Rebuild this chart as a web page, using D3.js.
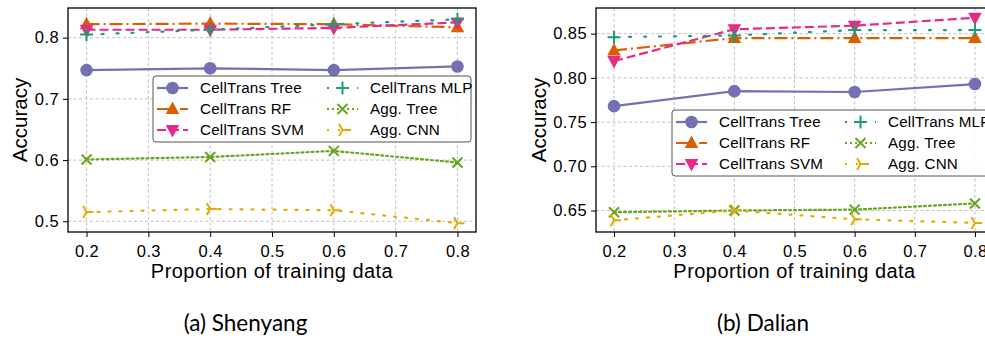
<!DOCTYPE html>
<html>
<head>
<meta charset="utf-8">
<script src="https://cdn.jsdelivr.net/npm/d3@7"></script>
<style>
  html, body { margin: 0; padding: 0; background: #fff; }
  svg { display: block; }
</style>
</head>
<body>
<svg id="chart" width="985" height="341"></svg>
<script>
// Proportion of training data (x values shared by both panels)
const proportions = [0.2, 0.4, 0.6, 0.8];
const xTicks = [0.2, 0.3, 0.4, 0.5, 0.6, 0.7, 0.8];

const seriesNames = ["CellTrans Tree", "CellTrans RF", "CellTrans SVM",
                     "CellTrans MLP", "Agg. Tree", "Agg. CNN"];

// Shenyang accuracy
const shenyangTree = [0.747, 0.750, 0.747, 0.753];
const shenyangRF   = [0.822, 0.823, 0.822, 0.817];
const shenyangSVM  = [0.813, 0.813, 0.816, 0.825];
const shenyangMLP  = [0.805, 0.813, 0.822, 0.830];
const shenyangAggTree = [0.601, 0.605, 0.615, 0.596];
const shenyangAggCNN  = [0.515, 0.520, 0.518, 0.497];
const shenyangYTicks = [0.5, 0.6, 0.7, 0.8];

// Dalian accuracy
const dalianTree = [0.768, 0.785, 0.784, 0.793];
const dalianRF   = [0.831, 0.845, 0.845, 0.845];
const dalianSVM  = [0.819, 0.855, 0.859, 0.868];
const dalianMLP  = [0.846, 0.848, 0.854, 0.854];
const dalianAggTree = [0.648, 0.650, 0.651, 0.658];
const dalianAggCNN  = [0.639, 0.650, 0.640, 0.636];
const dalianYTicks = [0.65, 0.70, 0.75, 0.80, 0.85];

// Dark2 palette with per-series line and marker styles
const styles = [
  { color: "#7570b3", dash: null,       width: 2.2, marker: "circle" },
  { color: "#d95f02", dash: "13,4,2,4", width: 2.2, marker: "triUp" },
  { color: "#e7298a", dash: "9,4",      width: 2.2, marker: "triDown" },
  { color: "#1b9e77", dash: "2,13",     width: 2.2, marker: "plus" },
  { color: "#66a61e", dash: "2,3",      width: 2.2, marker: "cross" },
  { color: "#e6ab02", dash: "2,9",      width: 2.2, marker: "tri" }
];

const svg = d3.select("#chart");
const FONT = "'Liberation Sans', Arial, Helvetica, sans-serif";

function drawMarker(g, type, color) {
  switch (type) {
    case "circle":
      g.append("circle").attr("r", 6.3).attr("fill", color);
      break;
    case "triUp":
      g.append("path").attr("d", "M0,-7.5L6.8,5L-6.8,5Z").attr("fill", color);
      break;
    case "triDown":
      g.append("path").attr("d", "M0,7.5L6.8,-5L-6.8,-5Z").attr("fill", color);
      break;
    case "plus":
      g.append("path").attr("d", "M-6.5,0H6.5M0,-6.5V6.5")
        .attr("stroke", color).attr("stroke-width", 2).attr("fill", "none");
      break;
    case "cross":
      g.append("path").attr("d", "M-5,-5L5,5M-5,5L5,-5")
        .attr("stroke", color).attr("stroke-width", 2).attr("fill", "none");
      break;
    case "tri":
      g.append("path").attr("d", "M0,0L7,0M0,0L-3.5,-6M0,0L-3.5,6")
        .attr("stroke", color).attr("stroke-width", 2).attr("fill", "none");
      break;
  }
}

function panel(opts) {
  const { left, right, top, bottom, yDomain, yTicks, yFormat, series,
          legend, caption, captionX, yLabelX } = opts;
  const x = d3.scaleLinear().domain([0.17, 0.83]).range([left, right]);
  const y = d3.scaleLinear().domain(yDomain).range([bottom, top]);
  const g = svg.append("g");

  // grid
  g.append("g").selectAll("line").data(xTicks).join("line")
    .attr("x1", d => x(d)).attr("x2", d => x(d))
    .attr("y1", top).attr("y2", bottom)
    .attr("stroke", "#b0b0b0").attr("stroke-width", 0.8)
    .attr("stroke-dasharray", "3,2.5");
  g.append("g").selectAll("line").data(yTicks).join("line")
    .attr("x1", left).attr("x2", right)
    .attr("y1", d => y(d)).attr("y2", d => y(d))
    .attr("stroke", "#b0b0b0").attr("stroke-width", 0.8)
    .attr("stroke-dasharray", "3,2.5");

  // axes
  const xAxis = g.append("g").attr("transform", `translate(0,${bottom})`)
    .call(d3.axisBottom(x).tickValues(xTicks).tickFormat(d3.format(".1f"))
      .tickSize(5).tickPadding(4));
  const yAxis = g.append("g").attr("transform", `translate(${left},0)`)
    .call(d3.axisLeft(y).tickValues(yTicks).tickFormat(d3.format(yFormat))
      .tickSize(5).tickPadding(4));
  [xAxis, yAxis].forEach(a => {
    a.select(".domain").remove();
    a.selectAll("line").attr("stroke", "#000").attr("stroke-width", 1);
    a.selectAll("text").attr("font-family", FONT).attr("font-size", 16.5)
      .attr("letter-spacing", "0.4px").attr("fill", "#000");
  });
  xAxis.selectAll("text").attr("dy", "0.95em");

  // series lines and markers
  const line = d3.line().x((d, i) => x(proportions[i])).y(d => y(d));
  series.forEach((vals, si) => {
    const st = styles[si];
    g.append("path").datum(vals)
      .attr("d", line).attr("fill", "none")
      .attr("stroke", st.color).attr("stroke-width", st.width)
      .attr("stroke-dasharray", st.dash)
      .attr("stroke-linecap", st.dash && st.dash.startsWith("2,") ? "round" : "butt");
    vals.forEach((v, i) => {
      const m = g.append("g").attr("transform", `translate(${x(proportions[i])},${y(v)})`);
      drawMarker(m, st.marker, st.color);
    });
  });

  // frame
  g.append("rect").attr("x", left).attr("y", top)
    .attr("width", right - left).attr("height", bottom - top)
    .attr("fill", "none").attr("stroke", "#000").attr("stroke-width", 1.3);

  // legend
  const lg = g.append("g");
  lg.append("rect").attr("x", legend.x).attr("y", legend.y)
    .attr("width", legend.w).attr("height", legend.h).attr("rx", 3)
    .attr("fill", "#fff").attr("fill-opacity", 0.85)
    .attr("stroke", "#555").attr("stroke-width", 1);
  seriesNames.forEach((name, si) => {
    const col = Math.floor(si / 3), row = si % 3;
    const st = styles[si];
    const hx = legend.x + legend.colX[col];
    const hy = legend.y + 12 + row * 21;
    lg.append("line").attr("x1", hx).attr("x2", hx + 31)
      .attr("y1", hy).attr("y2", hy)
      .attr("stroke", st.color).attr("stroke-width", st.width)
      .attr("stroke-dasharray", st.dash);
    const m = lg.append("g").attr("transform", `translate(${hx + 15.5},${hy})`);
    drawMarker(m, st.marker, st.color);
    lg.append("text").attr("x", hx + 43).attr("y", hy).attr("dy", "0.36em")
      .attr("font-family", FONT).attr("font-size", 15.2)
      .attr("letter-spacing", "0.2px").attr("fill", "#000")
      .text(name);
  });

  // axis titles
  g.append("text")
    .attr("x", (left + right) / 2).attr("y", 278)
    .attr("text-anchor", "middle").attr("font-family", FONT)
    .attr("font-size", 20).attr("letter-spacing", "0.45px").attr("fill", "#000")
    .text("Proportion of training data");
  g.append("text")
    .attr("transform", `translate(${yLabelX},120) rotate(-90)`)
    .attr("text-anchor", "middle").attr("font-family", FONT)
    .attr("font-size", 20.5).attr("fill", "#000")
    .text("Accuracy");

  // subfigure caption
  svg.append("text").attr("x", captionX).attr("y", 331)
    .attr("text-anchor", "middle")
    .attr("font-family", "Lato, 'Open Sans', sans-serif")
    .attr("font-size", 22.5).attr("fill", "#000")
    .text(caption);
}

panel({
  left: 68, right: 476, top: 8, bottom: 232,
  yDomain: [0.4825, 0.8485], yTicks: shenyangYTicks, yFormat: ".1f",
  series: [shenyangTree, shenyangRF, shenyangSVM, shenyangMLP, shenyangAggTree, shenyangAggCNN],
  legend: { x: 153, y: 76, w: 318, h: 66, colX: [4, 174] },
  caption: "(a) Shenyang", captionX: 245.5, yLabelX: 27
});

panel({
  left: 596, right: 993, top: 8, bottom: 232,
  yDomain: [0.6257, 0.879], yTicks: dalianYTicks, yFormat: ".2f",
  series: [dalianTree, dalianRF, dalianSVM, dalianMLP, dalianAggTree, dalianAggCNN],
  legend: { x: 672, y: 110, w: 320, h: 66, colX: [4, 173] },
  caption: "(b) Dalian", captionX: 763, yLabelX: 546
});
</script>
</body>
</html>
